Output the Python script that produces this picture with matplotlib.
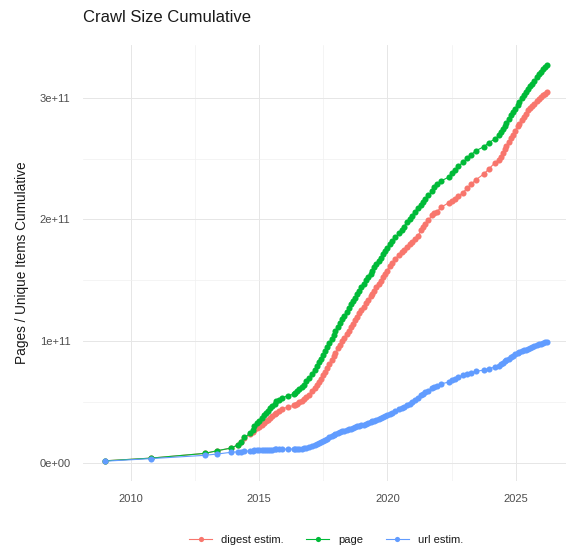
import matplotlib
matplotlib.use("Agg")
import matplotlib.pyplot as plt
from matplotlib.ticker import FixedLocator, FixedFormatter

plt.rcParams['font.family'] = ['Liberation Sans', 'DejaVu Sans']

# crawl dates (decimal years)
dates = [2009.0, 2010.78, 2012.88, 2013.37, 2013.91,
         2014.18, 2014.28, 2014.43, 2014.66, 2014.78, 2014.80, 2014.93, 2014.99,
         2015.10, 2015.20, 2015.26, 2015.34, 2015.41, 2015.51, 2015.61, 2015.66, 2015.76, 2015.91,
         2016.12, 2016.34, 2016.41, 2016.49, 2016.57, 2016.68, 2016.76, 2016.84, 2016.95,
         2017.06, 2017.16, 2017.24, 2017.32, 2017.41, 2017.49, 2017.57, 2017.64, 2017.74, 2017.82, 2017.90, 2017.97,
         2018.09, 2018.16, 2018.24, 2018.32, 2018.41, 2018.49, 2018.57, 2018.64, 2018.74, 2018.82, 2018.90, 2018.97,
         2019.07, 2019.16, 2019.24, 2019.34, 2019.41, 2019.49, 2019.57, 2019.66, 2019.74, 2019.82, 2019.90, 2019.97,
         2020.08, 2020.18, 2020.30, 2020.45, 2020.55, 2020.64, 2020.76, 2020.86, 2020.95,
         2021.07, 2021.18, 2021.32, 2021.39, 2021.47, 2021.59, 2021.74, 2021.82, 2021.93,
         2022.09, 2022.39, 2022.51, 2022.63, 2022.76, 2022.93,
         2023.10, 2023.26, 2023.44, 2023.76, 2023.95,
         2024.18, 2024.34, 2024.41, 2024.49, 2024.57, 2024.63, 2024.72, 2024.80, 2024.88, 2024.97,
         2025.08, 2025.14, 2025.24, 2025.33, 2025.39, 2025.49, 2025.57, 2025.62, 2025.72, 2025.82, 2025.89, 2025.97,
         2026.06, 2026.14, 2026.21]

# cumulative values in billions
page = [1.8, 4.0, 7.9, 10.1, 12.3,
        15.0, 17.5, 21.0, 24.5, 27.2, 30.4, 32.5, 34.6,
        37.1, 39.2, 41.0, 43.1, 45.2, 47.0, 48.8, 50.7, 51.8, 53.6,
        55.3, 56.5, 57.7, 58.8, 60.5, 62.2, 64.1, 67.0, 70.0,
        73.5, 76.6, 79.8, 82.8, 85.7, 88.9, 91.9, 95.2, 98.2, 101.9, 105.1, 108.0,
        111.4, 114.8, 118.0, 121.1, 123.8, 127.0, 130.2, 132.9, 135.7, 138.7, 141.3, 144.3,
        147.4, 150.3, 152.8, 155.4, 158.0, 160.6, 163.1, 166.0, 168.6, 171.6, 174.1, 176.6,
        179.7, 182.3, 185.2, 188.6, 191.7, 194.2, 197.8, 200.5, 203.1,
        206.5, 209.1, 211.8, 214.4, 216.9, 220.0, 223.0, 226.3, 228.8,
        231.7, 234.8, 237.9, 240.5, 243.6, 247.0,
        250.2, 253.3, 256.4, 259.8, 263.2,
        266.0, 269.0, 271.5, 274.0, 277.0, 279.5, 282.5, 285.5, 288.0, 291.0,
        294.0, 296.5, 299.5, 302.0, 304.5, 307.0, 309.5, 311.5, 314.0, 317.0, 319.5, 321.5,
        323.5, 325.5, 327.0]

digest = [1.8, 4.0, 7.9, 10.1, 12.3,
          14.8, 17.2, 20.6, 23.8, 25.6, 27.0, 28.6, 29.8,
          31.5, 33.2, 34.3, 35.7, 37.0, 38.8, 40.4, 41.3, 42.6, 44.6,
          45.9, 47.3, 47.9, 48.8, 49.8, 51.2, 52.4, 53.8, 56.2,
          59.0, 61.7, 64.0, 66.2, 69.0, 72.0, 75.0, 77.7, 81.5, 84.5, 87.5, 90.2,
          94.5, 97.0, 99.8, 102.6, 105.8, 108.6, 111.4, 113.8, 117.3, 120.2, 122.9, 125.3,
          128.5, 131.3, 133.8, 136.9, 139.0, 141.5, 144.2, 147.0, 149.8, 152.5, 155.2, 157.6,
          161.8, 164.5, 167.6, 171.0, 173.2, 175.0, 177.5, 179.5, 181.5,
          184.0, 186.5, 191.3, 193.5, 196.0, 199.5, 203.5, 205.0, 206.5,
          210.0, 213.8, 215.5, 217.0, 219.0, 222.0,
          225.5, 229.0, 232.5, 237.5, 241.5,
          246.5, 249.0, 251.5, 254.5, 257.5, 260.0, 263.5, 266.5, 269.5, 273.0,
          276.5, 278.5, 281.5, 284.5, 286.5, 289.5, 291.5, 293.0, 295.0, 297.5, 299.0, 300.5,
          302.0, 303.2, 304.3]

url = [1.5, 3.6, 6.3, 7.4, 8.8,
       9.2, 9.4, 9.7, 10.0, 10.2, 10.3, 10.5, 10.6,
       10.7, 10.8, 10.85, 10.9, 11.0, 11.05, 11.1, 11.15, 11.2, 11.3,
       11.4, 11.5, 11.55, 11.6, 11.7, 11.8, 12.0, 12.6, 13.3,
       14.0, 14.8, 15.6, 16.3, 17.2, 18.2, 19.2, 20.0, 21.2, 22.2, 23.0, 23.8,
       24.8, 25.4, 26.0, 26.6, 27.2, 27.8, 28.3, 28.8, 29.4, 30.0, 30.5, 31.0,
       31.6, 32.2, 32.8, 33.6, 34.2, 34.8, 35.5, 36.3, 37.0, 37.7, 38.4, 39.1,
       40.2, 41.2, 42.5, 44.2, 45.3, 46.3, 47.6, 48.8, 50.0,
       51.8, 53.2, 55.5, 56.8, 58.0, 59.5, 61.3, 62.3, 63.5,
       65.0, 66.5, 67.8, 69.0, 70.3, 72.0,
       73.2, 74.3, 75.2, 76.4, 77.5,
       78.7, 80.0, 81.0, 82.2, 83.4, 84.3, 85.6, 86.8, 88.0, 89.3,
       90.2, 90.9, 91.8, 92.6, 93.2, 94.0, 94.8, 95.3, 96.1, 96.9, 97.5, 98.1,
       98.7, 99.1, 99.5]

series_names = ["digest estim.", "page", "url estim."]
series_colors = ["#F8766D", "#00BA38", "#619CFF"]
series_values = [digest, page, url]
UNIT = 1e9

x_ticks = [2010, 2015, 2020, 2025]
x_minor = [2012.5, 2017.5, 2022.5]
y_ticks = [0, 1e11, 2e11, 3e11]
y_tick_labels = ["0e+00", "1e+11", "2e+11", "3e+11"]
y_minor = [0.5e11, 1.5e11, 2.5e11]

W, H = 566, 549
fig = plt.figure(figsize=(W / 100, H / 100), dpi=100)
left, right, top, bottom = 83, 569, 45, 481
ax = fig.add_axes([left / W, 1 - bottom / H, (right - left) / W, (bottom - top) / H])

for name, col, vals in zip(series_names, series_colors, series_values):
    ax.plot(dates, [v * UNIT for v in vals], color=col, lw=0.8, marker='o',
            markersize=4.4, markeredgewidth=0, label=name, zorder=3)

ax.margins(x=0.05, y=0.05)
ax.xaxis.set_major_locator(FixedLocator(x_ticks))
ax.xaxis.set_minor_locator(FixedLocator(x_minor))
ax.xaxis.set_major_formatter(FixedFormatter([str(t) for t in x_ticks]))
ax.yaxis.set_major_locator(FixedLocator(y_ticks))
ax.yaxis.set_minor_locator(FixedLocator(y_minor))
ax.yaxis.set_major_formatter(FixedFormatter(y_tick_labels))

ax.grid(which='major', color='#E6E6E6', lw=0.7, zorder=0)
ax.grid(which='minor', color='#F0F0F0', lw=0.5, zorder=0)
ax.set_axisbelow(True)
for s in ax.spines.values():
    s.set_visible(False)
ax.tick_params(which='both', length=0)
ax.tick_params(axis='both', labelsize=8, labelcolor='#4D4D4D', pad=9)

ax.set_ylabel("Pages / Unique Items Cumulative", fontsize=9.8, color='#1A1A1A')
ax.yaxis.set_label_coords((29 - left) / (right - left), 0.5)

fig.text(left / W, 1 - 17 / H, "Crawl Size Cumulative", fontsize=12, ha='left',
         va='center', color='#1A1A1A')

handles, labels = ax.get_legend_handles_labels()
fig.legend(handles, labels, loc='center', bbox_to_anchor=(326 / W, 1 - 540 / H), ncol=3,
           frameon=False, fontsize=8, handlelength=2.1, handletextpad=0.8,
           columnspacing=2.0, labelcolor='#1A1A1A', markerscale=0.85)

fig.savefig("out.png", dpi=100)
